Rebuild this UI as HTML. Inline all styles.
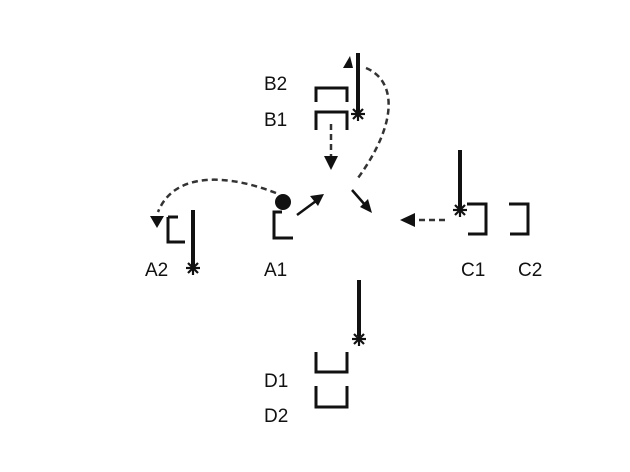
<!DOCTYPE html>
<html><head><style>
html,body{margin:0;padding:0;background:#fff;}
svg{display:block;}
text{font-family:"Liberation Sans",sans-serif;font-size:19px;fill:#111;}
</style></head><body>
<svg width="630" height="472" viewBox="0 0 630 472" xmlns="http://www.w3.org/2000/svg">
<defs>
<g id="ast" stroke="#111" stroke-width="2.2">
<line x1="-7" y1="0" x2="7" y2="0"/>
<line x1="0" y1="-7" x2="0" y2="7"/>
<line x1="-5" y1="-5" x2="5" y2="5"/>
<line x1="-5" y1="5" x2="5" y2="-5"/>
</g>
</defs>
<g fill="none" stroke="#111" stroke-width="3">
<path d="M316 102 V88 H347 V102"/>
<path d="M316 130 V112 H347 V130"/>
<line x1="358" y1="53" x2="358" y2="112" stroke-width="4"/>
<path d="M168 217 V242 H185"/>
<line x1="168" y1="217" x2="178" y2="217"/>
<line x1="193" y1="210" x2="193" y2="266" stroke-width="4"/>
<path d="M282 212 H274 V238 H293"/>
<line x1="460" y1="150" x2="460" y2="208" stroke-width="4"/>
<path d="M467 204 H486 V234 H468"/>
<path d="M509 204 H528 V234 H510"/>
<line x1="359" y1="280" x2="359" y2="336" stroke-width="4"/>
<path d="M316 352 V372 H347 V352"/>
<path d="M316 386 V407 H347 V386"/>
</g>
<circle cx="283" cy="202" r="8" fill="#111"/>
<use href="#ast" x="358" y="114"/>
<use href="#ast" x="193" y="268"/>
<use href="#ast" x="460" y="210"/>
<use href="#ast" x="359" y="339"/>
<g fill="none" stroke="#333" stroke-width="2.5" stroke-dasharray="6,4">
<path d="M331 124 V158"/>
<path d="M366 68 C395 80 400 120 358 178"/>
<path d="M276 193 C230 175 175 170 158 212"/>
<path d="M445 220 H416"/>
</g>
<g fill="none" stroke="#111" stroke-width="2.5">
<line x1="297" y1="215" x2="316" y2="201"/>
<line x1="352" y1="190" x2="366" y2="206"/>
</g>
<g fill="#111">
<polygon points="324,156 338,156 331,170"/>
<polygon points="343,68 353,68 350,56"/>
<polygon points="150,216 164,216 157,228"/>
<polygon points="415,213 415,227 400,220"/>
<polygon points="324,194 310,196 318,206"/>
<polygon points="372,213 360,207 368,199"/>
</g>
<text x="264" y="90">B2</text>
<text x="264" y="126">B1</text>
<text x="145" y="276">A2</text>
<text x="264" y="276">A1</text>
<text x="461" y="276">C1</text>
<text x="518" y="276">C2</text>
<text x="264" y="387">D1</text>
<text x="264" y="422">D2</text>
</svg>
</body></html>
